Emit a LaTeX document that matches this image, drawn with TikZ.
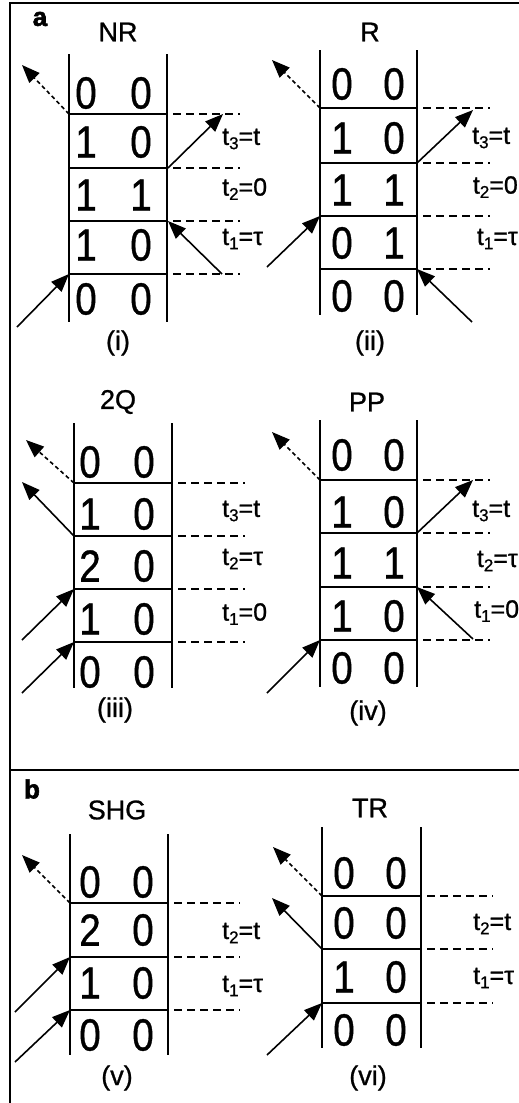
\documentclass[tikz,border=0pt]{standalone}
\usepackage{fontspec}
\setmainfont{Liberation Sans}[FakeBold=0.9, BoldFeatures={FakeBold=2.2}]
\usetikzlibrary{arrows.meta}
\newcommand{\rungset}[4]{%
  \foreach \yy in {#4} {\draw[rung] (#1,\yy) -- (#2,\yy); \draw[guide] (#2+6,\yy) -- (#3,\yy);}}
\newcommand{\dg}[1]{\scalebox{0.9}[1.05]{#1}}
\newcommand{\digitrow}[6]{\node[digit] (#1a) at (#2+2,#4) {\dg{#5}}; \node[digit] (#1b) at (#3+1,#4) {\dg{#6}};}
\newcommand{\tsub}[1]{\raisebox{-0.32ex}{\fontsize{17}{17}\selectfont #1}}
\begin{document}
\begin{tikzpicture}[x=1pt,y=-1pt,
  frame/.style={line width=2.2pt},
  rung/.style={line width=1.9pt},
  guide/.style={line width=1.4pt, dash pattern=on 8pt off 5pt},
  beam/.style={line width=1.6pt, -{Triangle[length=18pt,width=14pt]}},
  emit/.style={line width=1.6pt, dash pattern=on 4pt off 3pt, -{Triangle[length=18pt,width=14pt]}},
  digit/.style={inner sep=0pt, font=\fontsize{43}{43}\selectfont},
  title/.style={inner sep=0pt, font=\fontsize{27}{27}\selectfont},
  tlab/.style={inner sep=0pt, anchor=west, font=\fontsize{25}{25}\selectfont},
  tlabr/.style={inner sep=0pt, anchor=east, font=\fontsize{25}{25}\selectfont},
  plabel/.style={inner sep=0pt, font=\bfseries\fontsize{26}{26}\selectfont}]
\useasboundingbox (0,0) rectangle (519,1103);
% frame
\coordinate (f1) at (519,3); \coordinate (f2) at (10,3); \coordinate (f3) at (10,1103);
\coordinate (s1) at (10,770); \coordinate (s2) at (519,770);
\draw[frame] (f1) -- (f2) -- (f3);
\draw[frame] (s1) -- (s2);
\node[plabel] (la) at (40,19) {a};
\node[plabel] (lb) at (32,789) {b};

% ---------- panel (i) ----------
\node[title] (tNR) at (118,32) {NR};
\draw[rung] (69,54) -- (69,322); \draw[rung] (167,54) -- (167,322);
\rungset{69}{167}{240}{114,168,221,274}
\digitrow{i1}{84}{140}{93}{0}{0}
\digitrow{i2}{84}{140}{142}{1}{0}
\digitrow{i3}{84}{140}{195}{1}{1}
\digitrow{i4}{84}{140}{245}{1}{0}
\digitrow{i5}{84}{140}{299}{0}{0}
\coordinate (iAs) at (69,114); \coordinate (iAt) at (22,65);
\coordinate (iBs) at (168,168); \coordinate (iBt) at (223,114);
\coordinate (iCs) at (222,274); \coordinate (iCt) at (168,221);
\coordinate (iDs) at (17,327); \coordinate (iDt) at (69,274);
\draw[emit] (iAs) -- (iAt);
\draw[beam] (iBs) -- (iBt);
\draw[beam] (iCs) -- (iCt);
\draw[beam] (iDs) -- (iDt);
\node[tlab] (i-t3) at (222,139) {t\tsub{3}=t};
\node[tlab] (i-t2) at (222,189) {t\tsub{2}=0};
\node[tlab] (i-t1) at (222,239) {t\tsub{1}=τ};
\node[title] (ci) at (118,343) {(i)};

% ---------- panel (ii) ----------
\node[title] (tR) at (370,32) {R};
\draw[rung] (320,50) -- (320,315); \draw[rung] (417,50) -- (417,315);
\rungset{320}{417}{490}{108,163,216,269}
\digitrow{ii1}{340}{393}{84}{0}{0}
\digitrow{ii2}{340}{393}{138}{1}{0}
\digitrow{ii3}{340}{393}{190}{1}{1}
\digitrow{ii4}{340}{393}{243}{0}{1}
\digitrow{ii5}{340}{393}{296}{0}{0}
\coordinate (iiAs) at (320,108); \coordinate (iiAt) at (272,60);
\coordinate (iiBs) at (417,163); \coordinate (iiBt) at (473,110);
\coordinate (iiCs) at (267,267); \coordinate (iiCt) at (320,216);
\coordinate (iiDs) at (472,322); \coordinate (iiDt) at (417,269);
\draw[emit] (iiAs) -- (iiAt);
\draw[beam] (iiBs) -- (iiBt);
\draw[beam] (iiCs) -- (iiCt);
\draw[beam] (iiDs) -- (iiDt);
\node[tlab] (ii-t3) at (472,138) {t\tsub{3}=t};
\node[tlabr] (ii-t2) at (518,187) {t\tsub{2}=0};
\node[tlabr] (ii-t1) at (518,239) {t\tsub{1}=τ};
\node[title] (cii) at (370,343) {(ii)};

% ---------- panel (iii) ----------
\node[title] (t2Q) at (118,402) {2Q};
\draw[rung] (74,423) -- (74,688); \draw[rung] (172,423) -- (172,688);
\rungset{74}{172}{245}{483,536,589,642}
\digitrow{iii1}{88}{143}{462}{0}{0}
\digitrow{iii2}{88}{143}{514}{1}{0}
\digitrow{iii3}{88}{143}{566}{2}{0}
\digitrow{iii4}{88}{143}{619}{1}{0}
\digitrow{iii5}{88}{143}{672}{0}{0}
\coordinate (iiiAs) at (74,483); \coordinate (iiiAt) at (26,440);
\coordinate (iiiBs) at (74,536); \coordinate (iiiBt) at (22,482);
\coordinate (iiiCs) at (22,640); \coordinate (iiiCt) at (74,589);
\coordinate (iiiDs) at (22,693); \coordinate (iiiDt) at (74,642);
\draw[emit] (iiiAs) -- (iiiAt);
\draw[beam] (iiiBs) -- (iiiBt);
\draw[beam] (iiiCs) -- (iiiCt);
\draw[beam] (iiiDs) -- (iiiDt);
\node[tlab] (iii-t3) at (222,511) {t\tsub{3}=t};
\node[tlab] (iii-t2) at (222,559) {t\tsub{2}=τ};
\node[tlab] (iii-t1) at (222,614) {t\tsub{1}=0};
\node[title] (ciii) at (115,710) {(iii)};

% ---------- panel (iv) ----------
\node[title] (tPP) at (367,402) {PP};
\draw[rung] (320,420) -- (320,687); \draw[rung] (417,420) -- (417,687);
\rungset{320}{417}{490}{480,533,587,640}
\digitrow{iv1}{340}{393}{455}{0}{0}
\digitrow{iv2}{340}{393}{512}{1}{0}
\digitrow{iv3}{340}{393}{563}{1}{1}
\digitrow{iv4}{340}{393}{616}{1}{0}
\digitrow{iv5}{340}{393}{668}{0}{0}
\coordinate (ivAs) at (320,480); \coordinate (ivAt) at (272,432);
\coordinate (ivBs) at (417,533); \coordinate (ivBt) at (473,480);
\coordinate (ivCs) at (473,639); \coordinate (ivCt) at (417,587);
\coordinate (ivDs) at (267,693); \coordinate (ivDt) at (320,640);
\draw[emit] (ivAs) -- (ivAt);
\draw[beam] (ivBs) -- (ivBt);
\draw[beam] (ivCs) -- (ivCt);
\draw[beam] (ivDs) -- (ivDt);
\node[tlab] (iv-t3) at (472,511) {t\tsub{3}=t};
\node[tlabr] (iv-t2) at (518,561) {t\tsub{2}=τ};
\node[tlab] (iv-t1) at (474,611) {t\tsub{1}=0};
\node[title] (civ) at (368,713) {(iv)};

% ---------- panel (v) ----------
\node[title] (tSHG) at (117,810) {SHG};
\draw[rung] (70,834) -- (70,1055); \draw[rung] (168,834) -- (168,1055);
\rungset{70}{168}{240}{903,957,1010}
\digitrow{v1}{88}{142}{882}{0}{0}
\digitrow{v2}{88}{142}{930}{2}{0}
\digitrow{v3}{88}{142}{983}{1}{0}
\digitrow{v4}{88}{142}{1035}{0}{0}
\coordinate (vAs) at (70,903); \coordinate (vAt) at (22,855);
\coordinate (vBs) at (15,1012); \coordinate (vBt) at (70,957);
\coordinate (vCs) at (15,1062); \coordinate (vCt) at (70,1010);
\draw[emit] (vAs) -- (vAt);
\draw[beam] (vBs) -- (vBt);
\draw[beam] (vCs) -- (vCt);
\node[tlab] (v-t2) at (222,933) {t\tsub{2}=t};
\node[tlab] (v-t1) at (222,986) {t\tsub{1}=τ};
\node[title] (cv) at (117,1078) {(v)};

% ---------- panel (vi) ----------
\node[title] (tTR) at (370,808) {TR};
\draw[rung] (322,827) -- (322,1048); \draw[rung] (421,827) -- (421,1048);
\rungset{322}{421}{493}{896,949,1003}
\digitrow{vi1}{342}{395}{873}{0}{0}
\digitrow{vi2}{342}{395}{923}{0}{0}
\digitrow{vi3}{342}{395}{977}{1}{0}
\digitrow{vi4}{342}{395}{1030}{0}{0}
\coordinate (viAs) at (322,896); \coordinate (viAt) at (273,847);
\coordinate (viBs) at (322,949); \coordinate (viBt) at (272,898);
\coordinate (viCs) at (267,1055); \coordinate (viCt) at (322,1003);
\draw[emit] (viAs) -- (viAt);
\draw[beam] (viBs) -- (viBt);
\draw[beam] (viCs) -- (viCt);
\node[tlab] (vi-t2) at (473,924) {t\tsub{2}=t};
\node[tlab] (vi-t1) at (473,978) {t\tsub{1}=τ};
\node[title] (cvi) at (368,1078) {(vi)};
\end{tikzpicture}
\end{document}
